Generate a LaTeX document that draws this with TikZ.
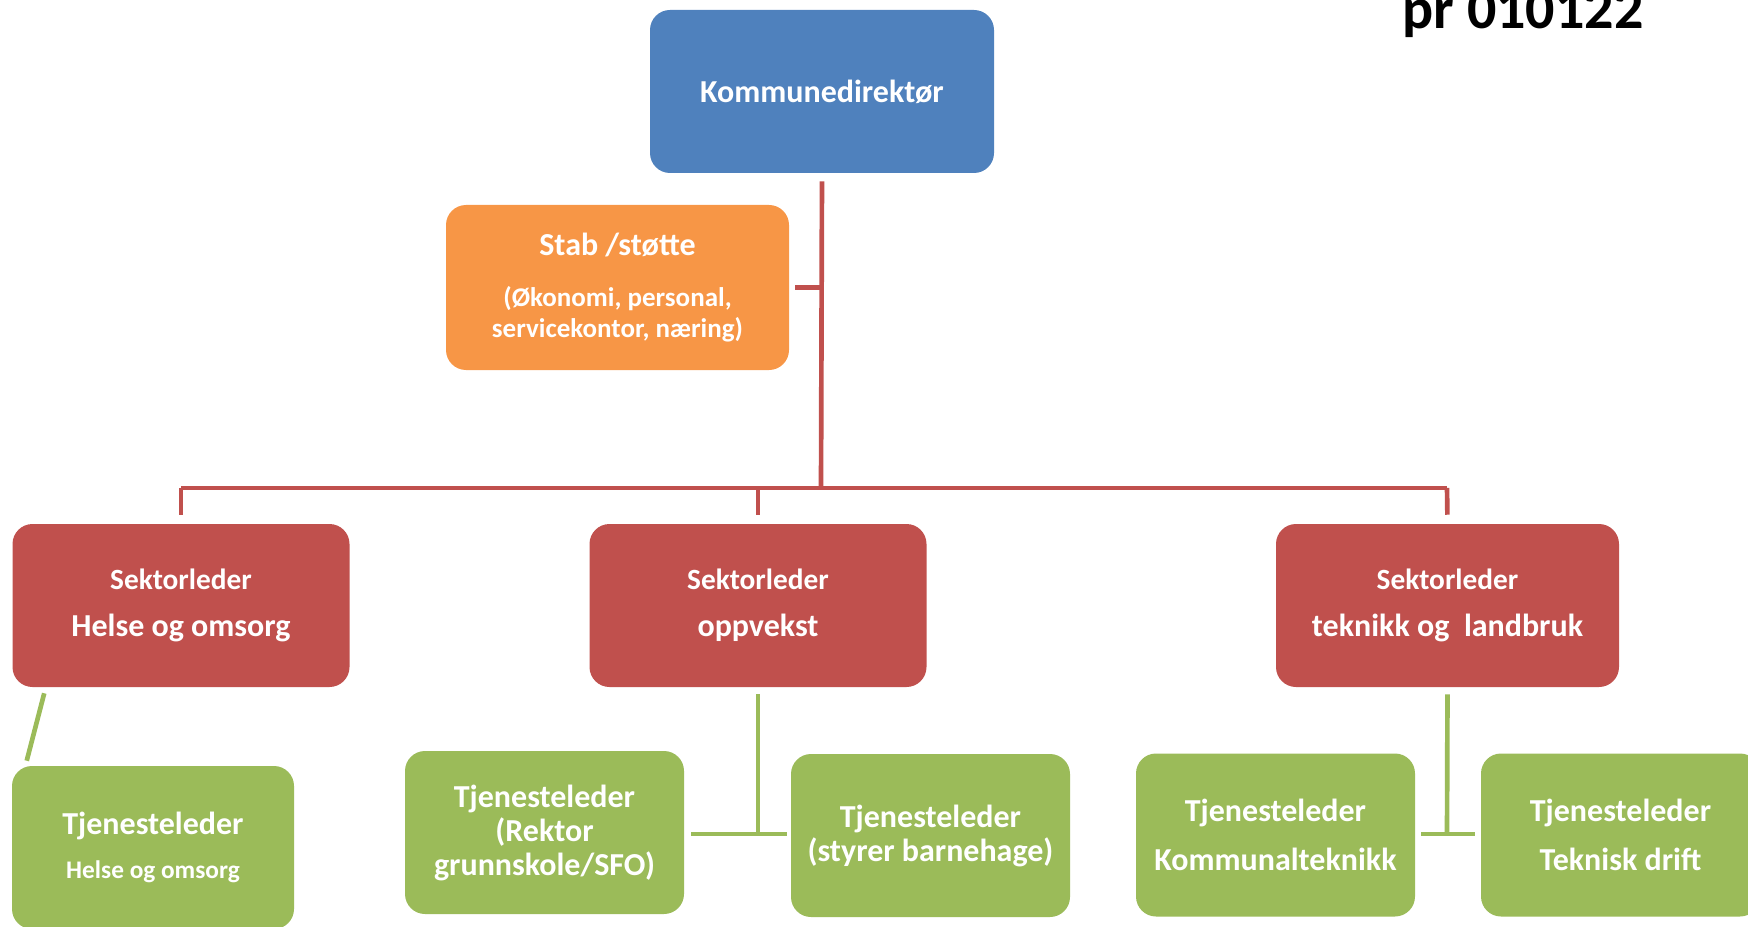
\documentclass[tikz,border=0pt]{standalone}
\usepackage{fontspec}
\setmainfont{Carlito}
\usepackage{tikz}
\usetikzlibrary{calc}

\definecolor{dirblue}{HTML}{4F81BD}
\definecolor{staborange}{HTML}{F79646}
\definecolor{sectorred}{HTML}{C0504D}
\definecolor{servicegreen}{HTML}{9BBB59}

\begin{document}
\begin{tikzpicture}[x=0.75pt,y=0.75pt,yscale=-1,xscale=1,
  orgbox/.style={rectangle, rounded corners=15pt, text=white, align=center, inner sep=0pt,
    font=\fontsize{24}{25.5}\selectfont\bfseries},
  dirbox/.style={orgbox, fill=dirblue, minimum width=258pt, minimum height=122.25pt},
  stabbox/.style={orgbox, fill=staborange, minimum width=257.25pt, minimum height=123.75pt},
  sectorbox/.style={orgbox, fill=sectorred, minimum width=252.75pt, minimum height=122.25pt},
  servicebox/.style={orgbox, fill=servicegreen, minimum width=209.25pt, minimum height=122.25pt},
  redline/.style={draw=sectorred, line width=3.5pt},
  greenline/.style={draw=servicegreen, line width=3.5pt}]
\useasboundingbox (0,0) rectangle (1748,927);

% Text Node
\node [anchor=base west, inner sep=0pt, font=\fontsize{43.5}{50}\selectfont\bfseries] (title) at (1402,29) {pr 010122};

%Shape: Rounded Rect [top]
\node [dirbox] (dir) at (822,91.5) {Kommunedirektør};
%Shape: Rounded Rect [stab]
\node [stabbox] (stab) at (617.5,287.5) {Stab /støtte\\[13pt]
  {\fontsize{20.25}{23}\selectfont (Økonomi, personal,}\\[-2pt]
  {\fontsize{20.25}{23}\selectfont servicekontor, næring)}};

%Shape: Rounded Rect [sectors]
\node [sectorbox] (helse) at (181,605.5) {{\fontsize{22}{24}\selectfont Sektorleder}\\[9.75pt] Helse og omsorg};
\node [sectorbox] (oppvekst) at (758,605.5) {{\fontsize{22}{24}\selectfont Sektorleder}\\[9.75pt] oppvekst};
\node [sectorbox, minimum width=257.25pt] (teknikk) at (1447.5,605.5) {{\fontsize{22}{24}\selectfont Sektorleder}\\[9.75pt] teknikk og\ \ landbruk};

%Shape: Rounded Rect [services]
\node [servicebox, minimum width=211.5pt] (thelse) at (153,847.5) {Tjenesteleder\\[8pt]
  {\fontsize{19}{22}\selectfont Helse og omsorg}};
\node [servicebox] (rektor) at (544.5,832.5) {Tjenesteleder\\(Rektor\\grunnskole/SFO)};
\node [servicebox] (barnehage) at (930.5,835.5) {Tjenesteleder\\(styrer barnehage)};
\node [servicebox] (kommunal) at (1275.5,835) {Tjenesteleder\\[11.25pt] Kommunalteknikk};
\node [servicebox] (drift) at (1620.5,835) {Tjenesteleder\\[11.25pt] Teknisk drift};

%Straight Lines [red]
\coordinate (hub) at (821,488);
\coordinate (barL) at (181,488);
\coordinate (barR) at (1447,488);
\draw [redline, shorten <=6pt] (dir.south) -- (hub);
\draw [redline, shorten <=4.5pt] (stab.east) -- (stab.east -| hub);
\draw [redline] (barL) -- (barR);
\draw [redline, shorten >=6.75pt] (barL) -- (helse.north);
\draw [redline, shorten >=6.75pt] (hub -| oppvekst.north) -- (oppvekst.north);
\draw [redline, shorten >=6.75pt] (barR) -- (teknikk.north);

%Straight Lines [green]
\draw [greenline] ($(helse.south west)+(32,6)$) -- ($(thelse.north west)+(15,-5)$);
\coordinate (oj) at (758,834);
\draw [greenline, shorten <=5.25pt] (oppvekst.south) -- (oj);
\draw [greenline, shorten >=5.25pt] (oj) -- (oj -| rektor.east);
\draw [greenline, shorten >=3pt] (oj) -- (oj -| barnehage.west);
\coordinate (tj) at (1447,834);
\draw [greenline, shorten <=5.25pt] (teknikk.south) -- (tj);
\draw [greenline, shorten >=4.5pt] (tj) -- (tj -| kommunal.east);
\draw [greenline, shorten >=4.5pt] (tj) -- (tj -| drift.west);

\end{tikzpicture}
\end{document}
